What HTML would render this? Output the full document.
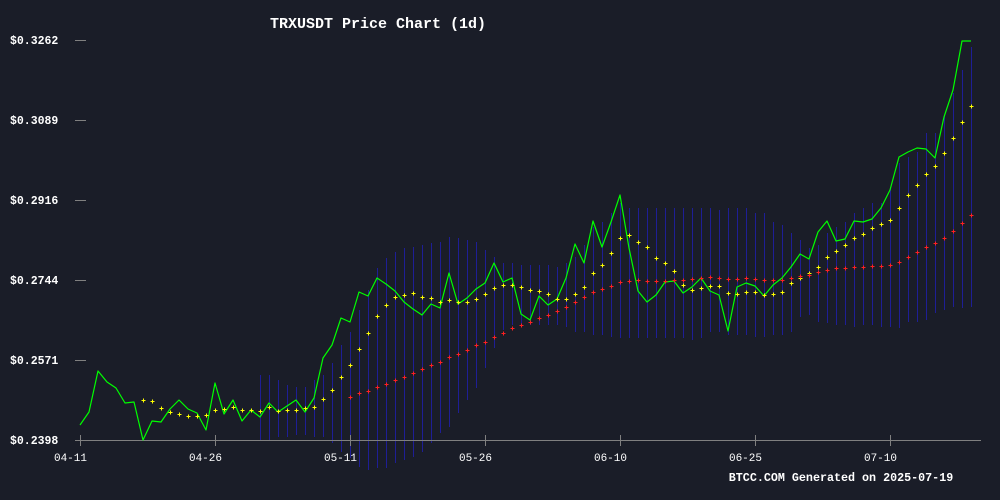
<!DOCTYPE html>
<html><head><meta charset="utf-8"><style>
html,body{margin:0;padding:0;background:#1a1d28;}
svg{display:block;}
text{font-family:"Liberation Mono","DejaVu Sans Mono",monospace;}
</style></head><body>
<svg id="chart" width="1000" height="500" xmlns="http://www.w3.org/2000/svg">
<rect x="0" y="0" width="1000" height="500" fill="#1a1d28"/>
<text x="378" y="28" fill="#ffffff" font-size="15" font-weight="bold" text-anchor="middle">TRXUSDT Price Chart (1d)</text>
<g id="bands"></g>
<g id="axes"></g>
<g id="price"></g>
<g id="ma1"></g>
<g id="ma2"></g>
<text x="841" y="481" fill="#ffffff" font-size="11.7" font-weight="bold" text-anchor="middle">BTCC.COM Generated on 2025-07-19</text>
</svg>
<script>
const startDate = [2025, 4, 11];
const xTickDays = [0, 15, 30, 45, 60, 75, 90];
const xTickLabels = ["04-11","04-26","05-11","05-26","06-10","06-25","07-10"];
const yTicks = [0.2398, 0.2571, 0.2744, 0.2916, 0.3089, 0.3262];
const yTickLabels = ["$0.2398","$0.2571","$0.2744","$0.2916","$0.3089","$0.3262"];
const price = [0.24304,0.24585,0.25470,0.25233,0.25103,0.24779,0.24801,0.23980,0.24390,0.24369,
0.24650,0.24844,0.24650,0.24563,0.24196,0.25211,0.24542,0.24844,0.24390,0.24628,
0.24477,0.24779,0.24585,0.24714,0.24844,0.24585,0.24887,0.25751,0.26032,0.26615,
0.26529,0.27177,0.27090,0.27479,0.27350,0.27198,0.26961,0.26810,0.26680,0.26918,
0.26831,0.27587,0.26918,0.27047,0.27242,0.27371,0.27803,0.27393,0.27479,0.26702,
0.26572,0.27090,0.26896,0.27026,0.27479,0.28214,0.27803,0.28710,0.28149,0.28689,
0.29272,0.28127,0.27198,0.26961,0.27112,0.27393,0.27414,0.27155,0.27285,0.27479,
0.27198,0.27112,0.26334,0.27285,0.27371,0.27306,0.27090,0.27328,0.27479,0.27717,
0.27998,0.27890,0.28473,0.28710,0.28278,0.28322,0.28710,0.28689,0.28754,0.28991,
0.29380,0.30093,0.30201,0.30287,0.30266,0.30071,0.30957,0.31540,0.32598,0.32598];
const maShortStart = 7;
const maShort = [0.24844,0.24822,0.24671,0.24585,0.24542,0.24498,0.24498,0.24520,0.24628,0.24650,
0.24693,0.24628,0.24628,0.24606,0.24693,0.24606,0.24628,0.24628,0.24671,0.24693,
0.24866,0.25060,0.25341,0.25600,0.25946,0.26291,0.26658,0.26896,0.27069,0.27112,
0.27155,0.27069,0.27047,0.26961,0.27004,0.26961,0.26961,0.27026,0.27134,0.27263,
0.27328,0.27328,0.27285,0.27220,0.27198,0.27134,0.27026,0.27026,0.27134,0.27285,
0.27587,0.27760,0.28019,0.28343,0.28408,0.28257,0.28149,0.27911,0.27803,0.27630,
0.27328,0.27220,0.27263,0.27306,0.27306,0.27155,0.27134,0.27177,0.27177,0.27112,
0.27134,0.27177,0.27371,0.27479,0.27587,0.27717,0.27933,0.28062,0.28192,0.28343,
0.28430,0.28559,0.28646,0.28732,0.28991,0.29272,0.29488,0.29726,0.29898,0.30179,
0.30503,0.30849,0.31194];
const maLongStart = 30;
const maLong = [0.24909,0.24995,0.25038,0.25125,0.25190,0.25276,0.25341,0.25427,0.25514,0.25600,
0.25665,0.25773,0.25838,0.25924,0.26032,0.26097,0.26205,0.26291,0.26399,0.26464,
0.26529,0.26615,0.26680,0.26766,0.26853,0.26961,0.27069,0.27177,0.27242,0.27306,
0.27393,0.27414,0.27436,0.27414,0.27414,0.27414,0.27436,0.27436,0.27458,0.27479,
0.27501,0.27479,0.27458,0.27458,0.27479,0.27458,0.27436,0.27436,0.27436,0.27479,
0.27522,0.27544,0.27609,0.27652,0.27695,0.27695,0.27717,0.27717,0.27738,0.27738,
0.27760,0.27825,0.27933,0.28041,0.28149,0.28235,0.28343,0.28494,0.28667,0.28840];
const bandStart = 20;
const bandUpper = [0.25384,0.25384,0.25276,0.25168,0.25125,0.25125,0.25276,0.25384,0.25643,0.26032,
0.26313,0.26788,0.27220,0.27695,0.27911,0.28041,0.28127,0.28149,0.28192,0.28235,
0.28257,0.28365,0.28343,0.28300,0.28257,0.28084,0.27933,0.27803,0.27803,0.27760,
0.27760,0.27760,0.27760,0.27717,0.27803,0.27933,0.28192,0.28581,0.28689,0.28883,
0.29099,0.28991,0.28991,0.28991,0.28991,0.28991,0.28991,0.28991,0.28991,0.28991,
0.28991,0.28948,0.28991,0.28991,0.28991,0.28883,0.28883,0.28689,0.28624,0.28451,
0.28300,0.28127,0.28192,0.28451,0.28581,0.28689,0.28883,0.28991,0.29099,0.29099,
0.29445,0.29963,0.30093,0.30201,0.30611,0.30611,0.31000,0.31475,0.31972,0.32469];
const bandLower = [0.23980,0.23980,0.24045,0.24045,0.24088,0.24088,0.24045,0.24045,0.23915,0.23721,
0.23591,0.23397,0.23332,0.23375,0.23375,0.23483,0.23548,0.23613,0.23721,0.23915,
0.24131,0.24261,0.24563,0.24844,0.25103,0.25535,0.25967,0.26356,0.26464,0.26464,
0.26464,0.26464,0.26464,0.26464,0.26421,0.26313,0.26313,0.26248,0.26248,0.26205,
0.26183,0.26183,0.26183,0.26183,0.26183,0.26183,0.26183,0.26183,0.26140,0.26183,
0.26313,0.26313,0.26248,0.26248,0.26248,0.26205,0.26205,0.26248,0.26248,0.26313,
0.26637,0.26680,0.26529,0.26507,0.26464,0.26464,0.26421,0.26464,0.26464,0.26421,
0.26421,0.26399,0.26529,0.26529,0.26572,0.26723,0.26788,0.26853,0.26831,0.26853];

const NS = "http://www.w3.org/2000/svg";
const X0 = 80, PX_PER_DAY = 9;
const Y_MIN = 0.2398, Y_MAX = 0.3262, Y_BOTTOM = 440, Y_TOP = 40;
function xScale(d){ return X0 + d * PX_PER_DAY; }
function yScale(v){ return Y_BOTTOM - (v - Y_MIN) / (Y_MAX - Y_MIN) * (Y_BOTTOM - Y_TOP); }
function mk(tag, attrs, parent){
  const e = document.createElementNS(NS, tag);
  for (const k in attrs) e.setAttribute(k, attrs[k]);
  parent.appendChild(e);
  return e;
}

const bands = document.getElementById('bands');
bandUpper.forEach((u, i) => {
  const x = xScale(bandStart + i) + 0.5;
  const l = mk('line', {x1:x, x2:x, y1:yScale(u), y2:yScale(bandLower[i]), stroke:'#1e1e96', 'stroke-width':1, 'shape-rendering':'crispEdges'}, bands);
  
  
});

const axes = document.getElementById('axes');
const xAxis = mk('line', {x1:75, x2:981, y1:440.5, y2:440.5, stroke:'#808080', 'stroke-width':1, 'shape-rendering':'crispEdges'}, axes);


yTicks.forEach((v, i) => {
  const y = yScale(v);
  const t = mk('line', {x1:75, x2:86, y1:y+0.5, y2:y+0.5, stroke:'#808080', 'stroke-width':1, 'shape-rendering':'crispEdges'}, axes);
  
  
  const lb = mk('text', {x:10, y:y+4, fill:'#ffffff', 'font-size':11.5, 'font-weight':'bold'}, axes);
  lb.textContent = yTickLabels[i];
  
  
});
xTickDays.forEach((d, i) => {
  const x = xScale(d) + 0.5;
  const t = mk('line', {x1:x, x2:x, y1:435, y2:446, stroke:'#808080', 'stroke-width':1, 'shape-rendering':'crispEdges'}, axes);
  
  
  const lb = mk('text', {x:x-10, y:461, fill:'#ffffff', 'font-size':11, 'text-anchor':'middle'}, axes);
  lb.textContent = xTickLabels[i];
  
  
});

const pg = document.getElementById('price');
const pts = price.map((v, i) => xScale(i).toFixed(1) + ',' + yScale(v).toFixed(1)).join(' ');
const pl = mk('polyline', {points:pts, fill:'none', stroke:'#00ff00', 'stroke-width':1.2, 'stroke-linejoin':'round'}, pg);



function drawCrosses(arr, start, color, gid, name){
  const g = document.getElementById(gid);
  arr.forEach((v, i) => {
    const x = xScale(start + i) + 0.5, y = Math.round(yScale(v)) + 0.5;
    const p = mk('path', {d:`M${x-2},${y}H${x+2}M${x},${y-2}V${y+2}`, stroke:color, 'stroke-width':1, 'shape-rendering':'crispEdges'}, g);
    
    
  });
}
drawCrosses(maShort, maShortStart, '#ffff00', 'ma1', 'ma-short-point');
drawCrosses(maLong, maLongStart, '#ff2020', 'ma2', 'ma-long-point');
</script>
</body></html>
